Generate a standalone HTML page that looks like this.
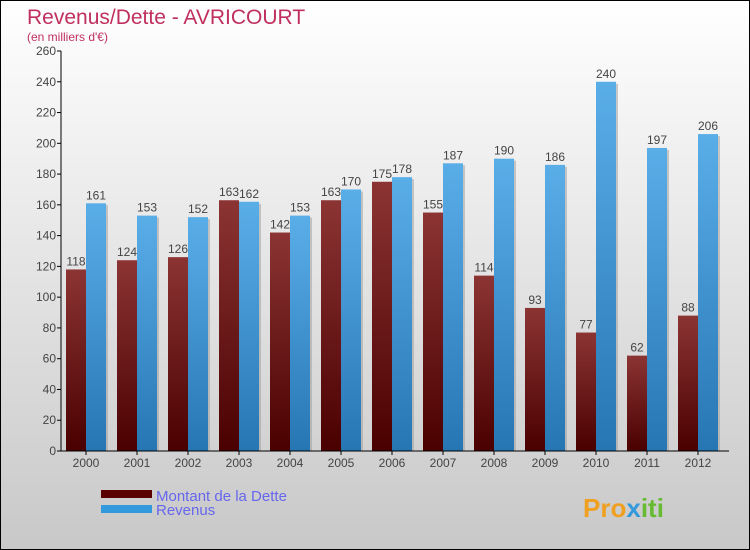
<!DOCTYPE html>
<html><head><meta charset="utf-8"><style>
body{margin:0}
#c{width:750px;height:550px;position:relative;overflow:hidden;background:linear-gradient(#ffffff,#c8c8c8);border:1px solid #000;box-sizing:border-box;font-family:"Liberation Sans",sans-serif}
</style></head><body>
<div id="c">
<svg width="750" height="550" id="svg">
<defs>
<linearGradient id="gd" x1="0" y1="0" x2="0" y2="1"><stop offset="0" stop-color="#8c3434"/><stop offset="1" stop-color="#4a0000"/></linearGradient>
<linearGradient id="gr" x1="0" y1="0" x2="0" y2="1"><stop offset="0" stop-color="#5aaee8"/><stop offset="1" stop-color="#2676b4"/></linearGradient>
</defs>
<text x="26" y="23" font-size="21" fill="#c0305e">Revenus/Dette - AVRICOURT</text>
<text x="26" y="40" font-size="12" fill="#c0305e">(en milliers d'€)</text>
<g id="plot"></g>
<rect x="100" y="489" width="51" height="8" fill="#5a0000"/>
<rect x="100" y="504" width="51" height="8" fill="#3399dd"/>
<text x="155" y="500" font-size="15" fill="#6666ee">Montant de la Dette</text>
<text x="155" y="514" font-size="15" fill="#6666ee">Revenus</text>
<text x="582" y="516" font-size="26" font-weight="bold" fill="#f0a020">Pro<tspan fill="#3399dd">x</tspan><tspan fill="#66bb33">iti</tspan></text>
</svg>
</div>
<script>
const categories=["2000","2001","2002","2003","2004","2005","2006","2007","2008","2009","2010","2011","2012"];
const dette=[118,124,126,163,142,163,175,155,114,93,77,62,88];
const revenus=[161,153,152,162,153,170,178,187,190,186,240,197,206];
const ticks=[0,20,40,60,80,100,120,140,160,180,200,220,240,260];
const NS="http://www.w3.org/2000/svg";
const g=document.getElementById('plot');
const x0=60,y0=450,yTop=50,ymax=260,gw=51,bw=20;
const y=v=>y0-(v/ymax)*(y0-yTop);
const gx=i=>x0+5+i*gw;
function mk(t,a){const e=document.createElementNS(NS,t);for(const k in a)e.setAttribute(k,a[k]);g.appendChild(e);return e;}
ticks.forEach(t=>{
 const l=mk('line',{x1:x0-4,x2:x0,y1:y(t),y2:y(t),stroke:'#000'});
 
 
 const tx=mk('text',{x:x0-5,y:y(t)+4,'font-size':12,'text-anchor':'end',fill:'#444'});
 tx.textContent=t;
 
 
});
categories.forEach((c,i)=>{
 const xd=gx(i),xr=xd+bw;
 const sd=mk('rect',{x:xd+2,y:y(dette[i])+2,width:bw,height:y0-y(dette[i])-2,fill:'#999',opacity:0.5});
 
 
 const bd=mk('rect',{x:xd,y:y(dette[i]),width:bw,height:y0-y(dette[i]),fill:'url(#gd)'});
 
 
 const sr=mk('rect',{x:xr+2,y:y(revenus[i])+2,width:bw,height:y0-y(revenus[i])-2,fill:'#999',opacity:0.5});
 
 
 const br=mk('rect',{x:xr,y:y(revenus[i]),width:bw,height:y0-y(revenus[i]),fill:'url(#gr)'});
 
 
 const ld=mk('text',{x:xd+bw/2,y:y(dette[i])-4,'font-size':12,'text-anchor':'middle',fill:'#444'});
 ld.textContent=dette[i];
 
 
 const lr=mk('text',{x:xr+bw/2,y:y(revenus[i])-4,'font-size':12,'text-anchor':'middle',fill:'#444'});
 lr.textContent=revenus[i];
 
 
 const tk=mk('line',{x1:xr,x2:xr,y1:y0,y2:y0+4,stroke:'#000'});
 
 
 const xl=mk('text',{x:xr,y:y0+16,'font-size':12,'text-anchor':'middle',fill:'#444'});
 xl.textContent=c;
 
 
});
const ya=mk('line',{x1:x0,x2:x0,y1:yTop,y2:y0,stroke:'#000'});


const xa=mk('line',{x1:x0,x2:x0+13*gw+5,y1:y0,y2:y0,stroke:'#000'});


</script>
</body></html>
